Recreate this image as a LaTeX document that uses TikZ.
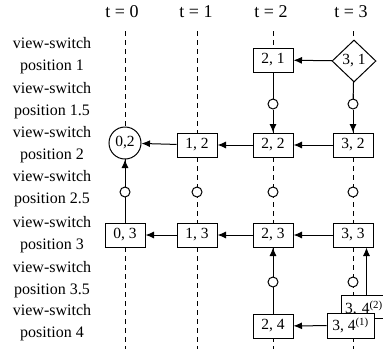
\documentclass[tikz,border=0pt]{standalone}
\usepackage{fontspec}
\setmainfont{Liberation Serif}
\usetikzlibrary{shapes.geometric,arrows.meta}
\begin{document}
\begin{tikzpicture}[x=1pt,y=-1pt,
  lw/.style={line width=1pt},
  grid/.style={lw, dashed, dash pattern=on 5pt off 4pt},
  stbox/.style={draw, lw, fill=white, minimum width=40pt, minimum height=24pt, inner sep=0pt, font=\fontsize{15.5}{18}\selectfont},
  bigbox/.style={stbox, minimum width=47pt, minimum height=24pt},
  rnd/.style={draw, lw, fill=white, circle, minimum size=32pt, inner sep=0pt, font=\fontsize{15.5}{18}\selectfont},
  dia/.style={draw, lw, fill=white, diamond, aspect=1, minimum width=44pt, minimum height=42pt, inner sep=0pt, font=\fontsize{15.5}{18}\selectfont},
  sm/.style={draw, lw, fill=white, circle, minimum size=10pt, inner sep=0pt},
  hdr/.style={font=\fontsize{18}{20}\selectfont},
  lbl/.style={align=center, font=\fontsize{16}{22}\selectfont},
  arr/.style={lw, -{Latex[length=8.5pt,width=7pt]}},
  con/.style={lw}]
\useasboundingbox (0,0) rectangle (383,349);
% headers
\node[hdr] (h0) at (122,12) {t = 0};
\node[hdr] (h1) at (196,12) {t = 1};
\node[hdr] (h2) at (271,12) {t = 2};
\node[hdr] (h3) at (351,12) {t = 3};
% row labels
\node[lbl] (l1) at (52,56) {view-switch\\position 1};
\node[lbl] (l15) at (52,101) {view-switch\\position 1.5};
\node[lbl] (l2) at (52,145) {view-switch\\position 2};
\node[lbl] (l25) at (52,189) {view-switch\\position 2.5};
\node[lbl] (l3) at (52,235) {view-switch\\position 3};
\node[lbl] (l35) at (52,280) {view-switch\\position 3.5};
\node[lbl] (l4) at (52,323) {view-switch\\position 4};
% grid lines
\foreach \n/\x in {0/125,1/197,2/273,3/353}{
  \coordinate (top\n) at (\x,31);
  \coordinate (bot\n) at (\x,349);
  \draw[grid] (top\n) -- (bot\n);
}
% nodes
\node[stbox] (b21) at (273,60) {2, 1};
\node[dia] (b31) at (354,61) {3, 1};
\node[rnd] (b02) at (125,143) {0,2};
\node[stbox] (b12) at (197,145) {1, 2};
\node[stbox] (b22) at (273,145) {2, 2};
\node[stbox] (b32) at (353,145) {3, 2};
\node[stbox] (b03) at (125,235) {0, 3};
\node[stbox] (b13) at (197,235) {1, 3};
\node[stbox] (b23) at (273,235) {2, 3};
\node[stbox] (b33) at (353,235) {3, 3};
\node[stbox] (b24) at (273,326) {2, 4};
\node[bigbox, minimum height=23pt, anchor=north west, text width=40pt, align=left, inner sep=0pt] (b342) at (341,295) {\hspace{6pt}\raisebox{2pt}{3, 4\textsuperscript{(2)}}};
\node[bigbox, minimum height=25pt] (b341) at (350.5,325.5) {3, 4\textsuperscript{(1)}};
% small circles
\node[sm] (c215) at (273,104) {};
\node[sm] (c315) at (353,104) {};
\node[sm] (c025) at (125,192) {};
\node[sm] (c125) at (197,192) {};
\node[sm] (c225) at (273,192) {};
\node[sm] (c325) at (353,192) {};
\node[sm] (c235) at (273,282) {};
\node[sm] (c335) at (353,282) {};
% solid connectors
\draw[con] (b21) -- (c215);
\draw[arr] (c215) -- (b22);
\draw[con] (b31) -- (c315);
\draw[arr] (c315) -- (b32);
\draw[con] (b03) -- (c025);
\draw[arr] (c025) -- (b02);
\draw[con] (b24) -- (c235);
\draw[arr] (c235) -- (b23);
\draw[arr] ([xshift=1.5pt]b342.north) -- ([xshift=1.5pt]b342.north |- b33.south);
% horizontal arrows
\draw[arr] (b31) -- (b21);
\draw[arr] (b32) -- (b22);
\draw[arr] (b22) -- (b12);
\draw[arr] (b12) -- (b02);
\draw[arr] (b33) -- (b23);
\draw[arr] (b23) -- (b13);
\draw[arr] (b13) -- (b03);
\draw[arr] (b341) -- (b24);
\end{tikzpicture}
\end{document}
